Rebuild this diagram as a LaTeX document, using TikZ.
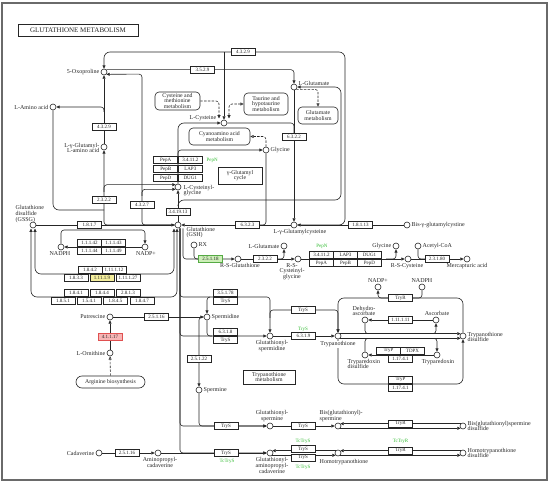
\documentclass[tikz,border=0pt]{standalone}
\usepackage{fontspec}
\setmainfont{Liberation Serif}
\usetikzlibrary{arrows.meta}
\usetikzlibrary{calc}

\definecolor{kline}{HTML}{262626}
\definecolor{kframe}{HTML}{6A6A6A}
\definecolor{kgreen}{HTML}{33BB33}
\definecolor{kyel}{HTML}{F4EE9C}
\definecolor{kgrfill}{HTML}{CDEFB8}
\definecolor{kgrline}{HTML}{55AA44}
\definecolor{kred}{HTML}{E05050}
\definecolor{kpink}{HTML}{F7B5B5}

\tikzset{
  cpd/.style={circle, draw, fill=white, inner sep=0pt, minimum size=6pt},
  enz/.style={draw, fill=white, inner sep=0pt, minimum width=24pt, minimum height=7pt, font=\fontsize{5}{5}\selectfont},
  lab/.style={inner sep=0.4pt, align=center, font=\fontsize{6}{5.6}\selectfont},
  gene/.style={inner sep=0.4pt, text=kgreen, font=\fontsize{5}{5}\selectfont},
  mapbox/.style={draw, fill=white, rounded corners=4pt, align=center, inner sep=0pt, font=\fontsize{5.8}{5.4}\selectfont},
  rc/.style={rounded corners=3pt},
  rcbig/.style={rounded corners=6pt},
  maplink/.style={dash pattern=on 2.4pt off 1.4pt},
  oarr/.style={-{Triangle[open, length=3.4pt, width=3pt]}},
}

\begin{document}
\begin{tikzpicture}[x=1pt, y=-1pt, line width=0.6pt, color=kline,
  >={Triangle[length=3.4pt, width=3pt]}]
\useasboundingbox (0,0) rectangle (550,484);
\draw[kframe, line width=1.3pt] (2,3) rectangle (547,480);
\node[draw, line width=0.8pt, minimum width=120pt, minimum height=12pt, inner sep=0pt,
  font=\fontsize{7}{7}\selectfont] (title) at (78,30) {GLUTATHIONE METABOLISM};

\node[cpd] (oxo) at (104,72) {};
\node[cpd] (laa) at (53,107) {};
\node[cpd] (ggaa) at (104,147) {};
\node[cpd] (cys) at (224,123) {};
\node[cpd] (glu) at (294,87) {};
\node[cpd] (gly) at (266,150) {};
\node[cpd] (cysgly) at (178,187) {};
\node[cpd] (gssg) at (33,225) {};
\node[cpd] (gsh) at (178,225) {};
\node[cpd] (gcys) at (294,225) {};
\node[cpd] (bisg) at (407,225) {};
\node[cpd] (nadph1) at (61,247) {};
\node[cpd] (nadp1) at (145,247) {};
\node[cpd] (rx) at (194,245) {};
\node[cpd] (rsg) at (238,259) {};
\node[cpd] (glu2) at (284,246) {};
\node[cpd] (rscg) at (298,259) {};
\node[cpd] (gly2) at (396,246) {};
\node[cpd] (rsc) at (408,259) {};
\node[cpd] (acoa) at (418,246) {};
\node[cpd] (merc) at (467,259) {};
\node[cpd] (nadp2) at (378,287) {};
\node[cpd] (nadph2) at (422,287) {};
\node[cpd] (dha) at (365,320) {};
\node[cpd] (asc) at (436,320) {};
\node[cpd] (trs) at (338,336) {};
\node[cpd] (ts2) at (463,336) {};
\node[cpd] (tpxd) at (365,355) {};
\node[cpd] (tpx) at (437,355) {};
\node[cpd] (put) at (110,317) {};
\node[cpd] (orn) at (110,353) {};
\node[cpd] (spd) at (207,317) {};
\node[cpd] (gsp) at (270,336) {};
\node[cpd] (spm) at (199,390) {};
\node[cpd] (gsspm) at (270,426) {};
\node[cpd] (bisspm) at (338,426) {};
\node[cpd] (bisspmd) at (463,426) {};
\node[cpd] (cad) at (99,453) {};
\node[cpd] (apc) at (158,453) {};
\node[cpd] (gsapc) at (270,453) {};
\node[cpd] (homt) at (338,453) {};
\node[cpd] (homtd) at (463,453) {};

\node[mapbox, minimum width=45pt, minimum height=18pt] (cysmet) at (177.5,101) {Cysteine and\\methionine\\metabolism};
\node[mapbox, minimum width=44pt, minimum height=22pt] (taur) at (266,104) {Taurine and\\hypotaurine\\metabolism};
\node[mapbox, minimum width=40pt, minimum height=17pt] (glumet) at (318,115.5) {Glutamate\\metabolism};
\node[mapbox, minimum width=61pt, minimum height=17pt] (cyano) at (219.5,136.5) {Cyanoamino acid\\metabolism};
\node[mapbox, rounded corners=0pt, minimum width=44pt, minimum height=17pt] (ggcyc) at (240,175.5) {γ-Glutamyl\\cycle};
\node[mapbox, rounded corners=6pt, minimum width=69pt, minimum height=12pt] (argb) at (110.5,382) {Arginine biosynthesis};
\node[mapbox, rounded corners=0pt, minimum width=52pt, minimum height=14pt] (trmet) at (269,377) {Trypanothione\\metabolism};

\coordinate (j1) at (224,52);
\coordinate (jq) at (104,112);
\coordinate (j2) at (104,192);
\coordinate (j2b) at (104,210);
\coordinate (j3) at (142,196);
\coordinate (j4) at (178,205);
\coordinate (jgl) at (178,156);
\coordinate (j6) at (294,133);
\coordinate (j7) at (256,225);
\coordinate (j8) at (100,230);
\coordinate (jc1) at (219,118.5);
\coordinate (jc2) at (229,118.5);
\coordinate (la1) at (35,228.5);
\coordinate (la2) at (174,228.5);
\coordinate (lb1) at (31,228.5);
\coordinate (lb2) at (177,228.5);
\coordinate (g1) at (183,228.5);
\coordinate (g2) at (180,228.5);
\coordinate (j9) at (210,297);
\coordinate (j10) at (212,336);
\coordinate (j11) at (270,318);
\coordinate (jrx) at (200,259);
\coordinate (jg2) at (275,259);
\coordinate (jgy2) at (386,259);
\coordinate (jac) at (428,259);
\coordinate (j15) at (400,298);
\coordinate (j16) at (400,384);
\coordinate (ja) at ($(trs.north east)!0.25!(ts2.north west)$);
\coordinate (jb) at ($(trs.north east)!0.7!(ts2.north west)$);
\coordinate (jc) at ($(trs.south east)!0.25!(ts2.south west)$);
\coordinate (jd) at ($(trs.south east)!0.7!(ts2.south west)$);

\draw[->, rcbig] (gcys) -| (345,52) -| (oxo);
\draw[->] (j1) -- (cys);
\draw[->, rc] (oxo.north east) -| (glu);
\draw[->, rc] (gsh) -| (142,74.1) -- (oxo.south east);
\draw[->] (ggaa) -- (oxo);
\draw[->, rc] (jq) |- (laa);
\draw[rcbig] (laa) |- (j2b);
\draw[->, rc] (gsh) -| (ggaa);
\draw[->, rc] (j2) |- (cysgly.north west);
\draw[->, rc] (j3) |- (cysgly.south west);
\draw[->, rcbig] (cysgly) |- (cys);
\draw[->, rc] (jgl) |- (gly);
\draw[->] (gsh) -- (cysgly);
\draw[->, rcbig] (j4) |- (341,200) |- (glu);
\draw[->] (glu) -- (gcys);
\draw[rc] (cys) -| (j6);
\draw[->] (gcys) -- (gsh);
\draw[rc] (gly) |- (j7);
\draw[->] (bisg) -- (gcys);
\draw[->] (gssg) -- (gsh);
\draw[->, rc] (nadph1) |- (j8) -| (nadp1);
\draw[->] (nadp1) -- (nadph1);
\draw[<->, rcbig] (la1) |- (174,274) -- (la2);
\draw[<->, rcbig] (lb1) |- (177,297) -- (lb2);

\draw[maplink, ->, rc] (cysmet) -| (jc1);
\draw[maplink, {Triangle[length=3.4pt, width=3pt]}-{Triangle[open, length=3.4pt, width=3pt]}, rc] (jc2) |- (taur);
\draw[maplink, oarr, rc] (gly) |- (cyano);
\draw[maplink, oarr, rc] (glu.south east) -| (glumet);

\draw[->, rc] (g1) |- (rsg);
\draw[rc] (rx) |- (jrx);
\draw[->] (rsg) -- (rscg);
\draw[->, rc] (jg2) -| (glu2);
\draw[->] (rscg) -- (rsc);
\draw[->, rc] (jgy2) -| (gly2);
\draw[->] (rsc) -- (merc);
\draw[rc] (acoa) |- (jac);

\draw[->, rc] (g2) |- (gsp);
\draw[rc] (g2) |- (j9);
\draw[->, rc] (g2) |- (gsspm);
\draw[->, rc] (g2) |- (gsapc);
\draw[<->, rc] (spd) -- (207,297) -| (gsp);
\draw[->, rc] (j11) |- (338,310) -- (trs);
\draw[rc] (spd) |- (j10);
\draw[->, rc] (spd) -| (spm);
\draw[->] (put) -- (spd);
\draw[->] (orn) -- (put);
\draw[maplink, oarr] (argb) -- (orn);

\draw[->] (gsp) -- (trs);
\draw[->] (trs.north east) -- (ts2.north west);
\draw[->] (trs.south east) -- (ts2.south west);
\draw[rc] (dha) |- (ja);
\draw[->, rc] (jb) -| (asc);
\draw[->] (asc) -- (dha);
\draw[rc] (tpxd) |- (jc);
\draw[->, rc] (jd) -| (tpx);
\draw[->] (tpx) -- (tpxd);
\draw[->, rcbig] (ts2) |- (j15) -| (trs);
\draw[->, rcbig] (trs) |- (j16) -| (ts2);
\draw[->, rc] (nadph2) |- (j15) -| (nadp2);

\draw[->, rc] (spm) |- (gsspm);
\draw[->] (gsspm) -- (bisspm);
\draw[->] (bisspmd.north west) -- (bisspm.north east);
\draw[->] (bisspm.south east) -- (bisspmd.south west);
\draw[->] (cad) -- (apc);
\draw[->] (apc) -- (gsapc);
\draw[->] (homt.north west) -- (gsapc.north east);
\draw[->] (gsapc.south east) -- (homt.south west);
\draw[->] (homtd.north west) -- (homt.north east);
\draw[->] (homt.south east) -- (homtd.south west);

\node[enz] (e4329a) at (243,52) {4.3.2.9};
\node[enz] (e3529) at (202.5,70) {3.5.2.9};
\node[enz] (e4329b) at (104,127) {4.3.2.9};
\node[enz] (e6322) at (294,136.5) {6.3.2.2};
\node[enz, anchor=east] (pepa1) at (178,160) {PepA};
\node[enz, anchor=west] (ap1) at (178,160) {3.4.11.2};
\node[enz, anchor=east] (pepb1) at (178,169) {PepB};
\node[enz, anchor=west] (lap1) at (178,169) {LAP3};
\node[enz, anchor=east] (pepd1) at (178,178) {PepD};
\node[enz, anchor=west] (dug1) at (178,178) {DUG1};
\node[gene, anchor=west] (pepn1) at (206,160) {PepN};
\node[enz] (e22232) at (104,200) {2.3.2.2};
\node[enz] (e4327) at (142,205) {4.3.2.7};
\node[enz] (e341913) at (178,212) {3.4.19.13};
\node[enz] (e6323) at (247.5,225) {6.3.2.3};
\node[enz] (e18113) at (360.5,225) {1.8.1.13};
\node[enz] (e1817) at (89.5,225) {1.8.1.7};
\node[enz, anchor=south] (e111142) at (89.5,246.6) {1.1.1.42};
\node[enz, anchor=south] (e111143) at (113.5,246.6) {1.1.1.43};
\node[enz, anchor=north] (e111144) at (89.5,247.4) {1.1.1.44};
\node[enz, anchor=north] (e111149) at (113.5,247.4) {1.1.1.49};
\node[enz, anchor=south] (e1842) at (90,273.6) {1.8.4.2};
\node[enz, anchor=south] (e111112) at (114,273.6) {1.11.1.12};
\node[enz, anchor=north] (e1833) at (76,274.4) {1.8.3.3};
\node[enz, anchor=north, fill=kyel] (e11119) at (102,274.4) {1.11.1.9};
\node[enz, anchor=north] (e111127) at (128,274.4) {1.11.1.27};
\node[enz, anchor=south] (e1841) at (76,296.6) {1.8.4.1};
\node[enz, anchor=south] (e1844) at (102,296.6) {1.8.4.4};
\node[enz, anchor=south] (e2813) at (128,296.6) {2.8.1.3};
\node[enz, anchor=north] (e1851) at (63,297.4) {1.8.5.1};
\node[enz, anchor=north] (e1541) at (89,297.4) {1.5.4.1};
\node[enz, anchor=north] (e1845) at (115.5,297.4) {1.8.4.5};
\node[enz, anchor=north] (e1847) at (142,297.4) {1.8.4.7};

\node[enz, fill=kgrfill, draw=kgrline] (e25118) at (210.5,259) {2.5.1.18};
\node[enz] (e2322b) at (265,259) {2.3.2.2};
\node[gene] (pepn2) at (322,246) {PepN};
\node[enz, anchor=south] (ap2) at (321.5,258.6) {3.4.11.2};
\node[enz, anchor=south] (lap2) at (345.5,258.6) {LAP3};
\node[enz, anchor=south] (dug2) at (369.5,258.6) {DUG1};
\node[enz, anchor=north] (pepa2) at (321.5,259.4) {PepA};
\node[enz, anchor=north] (pepb2) at (345.5,259.4) {PepB};
\node[enz, anchor=north] (pepd2) at (369.5,259.4) {PepD};
\node[enz] (e23180) at (437,259) {2.3.1.80};
\node[enz] (e2516a) at (156.5,317) {2.5.1.16};
\node[enz, fill=kpink, draw=kred] (e41117) at (110,336.5) {4.1.1.17};
\node[enz, anchor=south] (e35178) at (225.5,296.6) {3.5.1.78};
\node[enz, anchor=north] (trys1) at (225.5,297.4) {TryS};
\node[enz, anchor=south] (e6318) at (225.5,335.6) {6.3.1.8};
\node[enz, anchor=north] (trys2) at (225.5,336.4) {TryS};
\node[enz] (e25122) at (199,358.5) {2.5.1.22};
\node[enz] (trys3) at (303,310) {TryS};
\node[gene] (trysg) at (303,329.5) {TryS};
\node[enz] (e6319) at (303.5,336) {6.3.1.9};
\node[enz] (tryr1) at (400.5,298) {TryR};
\node[enz] (e111111) at (400.5,320) {1.11.1.11};
\node[enz, anchor=south] (tryp1) at (388.5,354.6) {TryP};
\node[enz, anchor=south] (tdpx) at (412.5,354.6) {TDPX};
\node[enz, anchor=north] (e11741a) at (400.5,355.4) {1.17.4.1};
\node[enz, anchor=south] (tryp2) at (400.5,383.6) {TryP};
\node[enz, anchor=north] (e11741b) at (400.5,384.4) {1.17.4.1};

\node[enz] (trys4) at (226,426) {TryS};
\node[enz] (trys5) at (303,426) {TryS};
\node[enz] (tryr2) at (400.5,423.9) {TryR};
\node[enz] (e2516b) at (127,453) {2.5.1.16};
\node[enz] (trys6) at (226,453) {TryS};
\node[gene] (tcs1) at (227,461.5) {TcTryS};
\node[enz] (trys7) at (303,449) {TryS};
\node[enz] (trys8) at (303,457.5) {TryS};
\node[gene] (tcs2) at (303,441) {TcTryS};
\node[gene] (tcs3) at (303,467) {TcTryS};
\node[enz] (tryr3) at (400.5,450.9) {TryR};
\node[gene] (tcr) at (400.5,441) {TcTryR};

\node[lab, anchor=east] (oxol) at (100,72) {5-Oxoproline};
\node[lab, anchor=east] (laal) at (49,107) {L-Amino acid};
\node[lab, anchor=east, align=right] (ggaal) at (100,148) {L-γ-Glutamyl-\\L-amino acid};
\node[lab, anchor=east] (cysl) at (217,118.5) {L-Cysteine};
\node[lab, anchor=west] (glul) at (298,83) {L-Glutamate};
\node[lab, anchor=west] (glyl) at (270,150) {Glycine};
\node[lab, anchor=west, align=left] (cysglyl) at (183,190.5) {L-Cysteinyl-\\glycine};
\node[lab, anchor=west, align=left] (gssgl) at (15,214) {Glutathione\\disulfide\\(GSSG)};
\node[lab, anchor=west, align=left] (gshl) at (186,232.5) {Glutathione\\(GSH)};
\node[lab, anchor=north] (gcysl) at (300,229) {L-γ-Glutamylcysteine};
\node[lab, anchor=west] (bisgl) at (411,225) {Bis-γ-glutamylcystine};
\node[lab, anchor=north] (nadph1l) at (60,250.5) {NADPH};
\node[lab, anchor=north] (nadp1l) at (146,250.5) {NADP+};
\node[lab, anchor=west] (rxl) at (198,245) {RX};
\node[lab, anchor=north] (rsgl) at (240,262.5) {R-S-Glutathione};
\node[lab, anchor=east] (glu2l) at (280,246) {L-Glutamate};
\node[lab, anchor=north] (rscgl) at (292,262.5) {R-S-\\Cysteinyl-\\glycine};
\node[lab, anchor=east] (gly2l) at (392,246) {Glycine};
\node[lab, anchor=north] (rscl) at (407,262.5) {R-S-Cysteine};
\node[lab, anchor=west] (acoal) at (422,246) {Acetyl-CoA};
\node[lab, anchor=north] (mercl) at (467,262.5) {Mercapturic acid};
\node[lab, anchor=south] (nadp2l) at (378,283.5) {NADP+};
\node[lab, anchor=south] (nadph2l) at (422,283.5) {NADPH};
\node[lab, anchor=south] (dhal) at (364,316.5) {Dehydro-\\ascorbate};
\node[lab, anchor=south] (ascl) at (437,316.5) {Ascorbate};
\node[lab, anchor=north, fill=white] (trsl) at (338,341) {Trypanothione};
\node[lab, anchor=west, align=left] (ts2l) at (467,337) {Trypanothione\\disulfide};
\node[lab, anchor=north west, align=left] (tpxdl) at (347,358.5) {Tryparedoxin\\disulfide};
\node[lab, anchor=north] (tpxl) at (438,358.5) {Tryparedoxin};
\node[lab, anchor=east] (putl) at (106,317) {Putrescine};
\node[lab, anchor=east] (ornl) at (106,353) {L-Ornithine};
\node[lab, anchor=west] (spdl) at (211,317) {Spermidine};
\node[lab, anchor=north] (gspl) at (272,340) {Glutathionyl-\\spermidine};
\node[lab, anchor=west] (spml) at (203,390) {Spermine};
\node[lab, anchor=south] (gsspml) at (272,422) {Glutathionyl-\\spermine};
\node[lab, anchor=south west, align=left] (bisspml) at (319,422) {Bis(glutathionyl)-\\spermine};
\node[lab, anchor=west, align=left] (bisspmdl) at (467,426) {Bis(glutathionyl)spermine\\disulfide};
\node[lab, anchor=east] (cadl) at (95,453) {Cadaverine};
\node[lab, anchor=north] (apcl) at (160,457) {Aminopropyl-\\cadaverine};
\node[lab, anchor=north] (gsapcl) at (272,457) {Glutathionyl-\\aminopropyl-\\cadaverine};
\node[lab, anchor=west] (homtl) at (319,462) {Homotrypanothione};
\node[lab, anchor=west, align=left] (homtdl) at (467,453) {Homotrypanothione\\disulfide};
\end{tikzpicture}
\end{document}
